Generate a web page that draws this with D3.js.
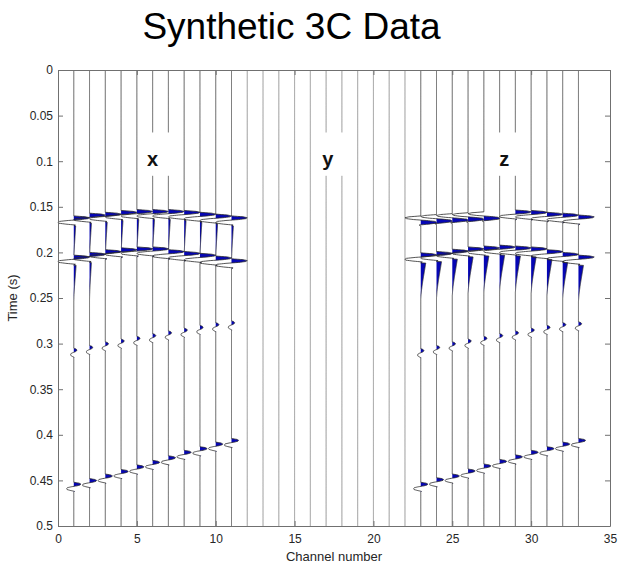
<!DOCTYPE html>
<html><head><meta charset="utf-8">
<script src="https://cdn.jsdelivr.net/npm/d3@7"></script>
<style>
body{margin:0;background:#fff;}
svg{display:block;font-family:"Liberation Sans",Arial,Helvetica,sans-serif;}
</style>
</head><body>
<svg id="chart" width="618" height="566"></svg>
<script>
// ---------------- data ----------------
const xChannels = [1,2,3,4,5,6,7,8,9,10,11];
const yChannels = [12,13,14,15,16,17,18,19,20,21,22];
const zChannels = [23,24,25,26,27,28,29,30,31,32,33];

// arrival times (s) per channel
const xEvent1Times = [0.160,0.157,0.156,0.154,0.153,0.153,0.153,0.154,0.156,0.158,0.160];
const xEvent2Times = [0.203,0.200,0.197,0.195,0.194,0.194,0.197,0.199,0.201,0.204,0.207];
const xEvent3Times = [0.305,0.302,0.298,0.295,0.292,0.289,0.286,0.283,0.280,0.277,0.275];
const xEvent4Times = [0.452,0.448,0.443,0.438,0.433,0.428,0.423,0.417,0.413,0.408,0.404];
const zEvent1Times = [0.160,0.1585,0.1575,0.1565,0.1555,0.155,0.1535,0.154,0.156,0.157,0.159];
const zEvent2Times = [0.2005,0.199,0.1965,0.194,0.193,0.192,0.193,0.194,0.197,0.200,0.203];
const zEvent3Times = [0.3055,0.302,0.298,0.295,0.292,0.289,0.286,0.283,0.280,0.277,0.276];
const zEvent4Times = [0.452,0.447,0.443,0.4375,0.432,0.427,0.422,0.417,0.413,0.408,0.404];

// amplitudes (channel units)
const xEvent1Amps = [1,1,1,1,1,1,1,1,1,1,1];
const xEvent2Amps = [1,1,1,1,1,1,1,1,1,1,1];
const xEvent3Amps = [0.2,0.2,0.2,0.2,0.2,0.2,0.2,0.2,0.2,0.2,0.2];
const xEvent4Amps = [0.45,0.45,0.45,0.45,0.45,0.45,0.45,0.45,0.45,0.45,0.45];
const zEvent1Amps = [-1,-1,-1,-1,-1,0,1,1,1,1,1];
const zEvent2Amps = [1,1,1,1,1,1,1,1,1,1,1];
const zEvent3Amps = [0.2,0.2,0.2,0.2,0.2,0.2,0.2,0.2,0.2,0.2,0.2];
const zEvent4Amps = [0.45,0.45,0.45,0.45,0.45,0.45,0.45,0.45,0.45,0.45,0.45];

// slow positive tails after some arrivals
const xEvent1TailAmps = [0.12,0.12,0.12,0.12,0.12,0.12,0.12,0.12,0.12,0.12,0.12];
const xEvent2TailAmps = [0.15,0.12,0,0,0,0,0,0,0,0,0];
const zEvent2TailAmps = [0.32,0.32,0.32,0.32,0.32,0.32,0.32,0.32,0.32,0.32,0.32];

// wavelet shape (1 ms samples) and tail shape (5 ms samples)
const waveletShape = [0,0.75,1.0,0.9,0.45,-0.35,-0.9,-1.0,-0.95,-0.5,0.1,0];
const waveletStep = 0.001;
const tailShape = [1,0.85,0.7,0.55,0.4,0.27,0.15,0.06,0];
const tailStep = 0.005;

const xTicks = [0,5,10,15,20,25,30,35];
const yTicks = [0,0.05,0.1,0.15,0.2,0.25,0.3,0.35,0.4,0.45,0.5];
const componentLabels = ["x","y","z"];
const labelChannels = [6,17.1,28.3];
const labelBoxStart = [6,17,28];

// ---------------- chart ----------------
const W = 618, H = 566;
const m = {left:58, right:8, top:70, bottom:40};
const svg = d3.select("#chart");
const x = d3.scaleLinear().domain([0,35]).range([m.left, W-m.right]);
const y = d3.scaleLinear().domain([0,0.5]).range([m.top, H-m.bottom]);

function sampleShape(shape, step, u){
  const k = u/step;
  if (k < 0 || k > shape.length-1) return 0;
  const i = Math.floor(k), f = k - i;
  const a = shape[i], b = shape[Math.min(i+1, shape.length-1)];
  return a*(1-f) + b*f;
}

const components = [
  {channels:xChannels, color:"#2a2a2a", events:[
    {times:xEvent1Times, amps:xEvent1Amps, tail:xEvent1TailAmps},
    {times:xEvent2Times, amps:xEvent2Amps, tail:xEvent2TailAmps},
    {times:xEvent3Times, amps:xEvent3Amps},
    {times:xEvent4Times, amps:xEvent4Amps}]},
  {channels:yChannels, color:"#777", events:[]},
  {channels:zChannels, color:"#2a2a2a", events:[
    {times:zEvent1Times, amps:zEvent1Amps},
    {times:zEvent2Times, amps:zEvent2Amps, tail:zEvent2TailAmps},
    {times:zEvent3Times, amps:zEvent3Amps},
    {times:zEvent4Times, amps:zEvent4Amps}]}
];

const tGrid = d3.range(0, 0.5 + 1e-9, 0.00025);
const traces = [];
components.forEach(c => {
  c.channels.forEach((ch, j) => {
    const pts = tGrid.map(t => {
      let v = 0;
      c.events.forEach(e => {
        v += e.amps[j] * sampleShape(waveletShape, waveletStep, t - e.times[j]);
        if (e.tail) v += e.tail[j] * sampleShape(tailShape, tailStep, t - e.times[j] - (waveletShape.length-1)*waveletStep);
      });
      return {t, v};
    });
    traces.push({ch, pts, color:c.color});
  });
});

const gTr = svg.append("g");
const area = ch => d3.area().y(d => y(d.t)).x0(x(ch)).x1(d => x(ch + Math.max(0, d.v)));
const line = ch => d3.line().y(d => y(d.t)).x(d => x(ch + d.v));

traces.forEach(tr => {
  gTr.append("path").attr("d", area(tr.ch)(tr.pts)).attr("fill", "#0606b4").attr("stroke","none");
});
traces.forEach(tr => {
  gTr.append("path").attr("d", line(tr.ch)(tr.pts)).attr("fill","none")
     .attr("stroke", tr.color).attr("stroke-width", 0.8);
});

// label boxes and labels
componentLabels.forEach((lab, i) => {
  svg.append("rect")
    .attr("x", x(labelBoxStart[i] - 0.45)).attr("width", x(1.9) - x(0))
    .attr("y", y(0.0685)).attr("height", y(0.116) - y(0.0685))
    .attr("fill", "#fff");
  svg.append("text")
    .attr("x", x(labelChannels[i])).attr("y", y(0.0975))
    .attr("text-anchor","middle").attr("dominant-baseline","central")
    .attr("font-size", 20).attr("font-weight", "bold").attr("fill","#111")
    .text(lab);
});

// axes
const axisColor = "#707070";
function styleAxis(g){
  g.select(".domain").attr("stroke", axisColor);
  g.selectAll(".tick line").attr("stroke", axisColor);
  g.selectAll(".tick text").attr("fill","#262626").attr("font-size",12)
   .attr("font-family","'Liberation Sans',Arial,sans-serif");
}
svg.append("g").attr("transform",`translate(0,${H-m.bottom})`)
  .call(d3.axisBottom(x).tickValues(xTicks).tickFormat(d => String(d)).tickSize(-5).tickSizeOuter(0).tickPadding(8))
  .call(styleAxis);
svg.append("g").attr("transform",`translate(0,${m.top})`)
  .call(d3.axisTop(x).tickValues(xTicks).tickFormat("").tickSize(-5).tickSizeOuter(0))
  .call(styleAxis);
svg.append("g").attr("transform",`translate(${m.left},0)`)
  .call(d3.axisLeft(y).tickValues(yTicks).tickFormat(d => String(d)).tickSize(-5).tickSizeOuter(0).tickPadding(5))
  .call(styleAxis);
svg.append("g").attr("transform",`translate(${W-m.right},0)`)
  .call(d3.axisRight(y).tickValues(yTicks).tickFormat("").tickSize(-5).tickSizeOuter(0))
  .call(styleAxis);

// titles
svg.append("text").attr("x", 291.5).attr("y", 39).attr("text-anchor","middle")
  .attr("font-size", 37).attr("fill","#000").text("Synthetic 3C Data");
svg.append("text").attr("x", (x(0)+x(35))/2).attr("y", 561).attr("text-anchor","middle")
  .attr("font-size", 13).attr("fill","#262626").text("Channel number");
svg.append("text").attr("transform", `translate(17,${(y(0)+y(0.5))/2}) rotate(-90)`)
  .attr("text-anchor","middle").attr("font-size", 13).attr("fill","#262626").text("Time (s)");
</script>
</body></html>
